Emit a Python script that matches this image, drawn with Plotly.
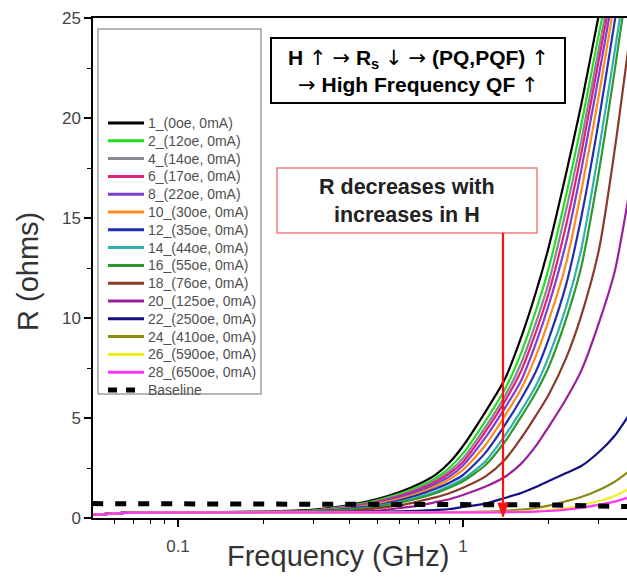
import math
import plotly.graph_objects as go

# ---------------- data ----------------
freq = [0.05, 0.065, 0.1, 0.2, 0.3, 0.4, 0.5, 0.6, 0.7, 0.8, 0.9, 1.0,
        1.2, 1.4, 1.6, 1.8, 2.0, 2.3, 2.6, 3.0, 3.4, 3.8]

names = ["1_(0oe, 0mA)", "2_(12oe, 0mA)", "4_(14oe, 0mA)", "6_(17oe, 0mA)",
         "8_(22oe, 0mA)", "10_(30oe, 0mA)", "12_(35oe, 0mA)", "14_(44oe, 0mA)",
         "16_(55oe, 0mA)", "18_(76oe, 0mA)", "20_(125oe, 0mA)", "22_(250oe, 0mA)",
         "24_(410oe, 0mA)", "26_(590oe, 0mA)", "28_(650oe, 0mA)", "Baseline"]

colors = ["#000000", "#22dd22", "#858a90", "#e0207f", "#7b3fd0", "#ff8c1a",
          "#2030b0", "#30b0b0", "#2e9a2e", "#8b3a2a", "#9b1f9b", "#101080",
          "#8a8a10", "#f0f020", "#ff33ff", "#000000"]

r1 = [0.15, 0.26, 0.28, 0.32, 0.42, 0.65, 0.95, 1.30, 1.70, 2.16, 2.80, 3.60, 5.32, 6.92, 9.03, 11.26, 13.56, 17.22, 20.67, 25.2, 28.9, 32.4]
r2 = [0.15, 0.26, 0.28, 0.31, 0.38, 0.61, 0.89, 1.21, 1.57, 1.99, 2.54, 3.23, 4.86, 6.41, 8.26, 10.35, 12.5, 16.14, 19.65, 24.23, 28.1, 31.5]
r4 = [0.15, 0.26, 0.28, 0.30, 0.36, 0.58, 0.84, 1.14, 1.49, 1.88, 2.37, 2.98, 4.56, 6.07, 7.74, 9.74, 11.8, 15.4, 18.88, 23.5, 27.55, 31.3]
r6 = [0.15, 0.26, 0.28, 0.30, 0.35, 0.56, 0.81, 1.10, 1.42, 1.80, 2.24, 2.80, 4.33, 5.82, 7.36, 9.28, 11.26, 14.64, 18.24, 22.95, 27.1, 30.9]
r8 = [0.15, 0.26, 0.28, 0.30, 0.34, 0.54, 0.76, 1.04, 1.34, 1.69, 2.09, 2.63, 4.03, 5.48, 6.88, 8.72, 10.66, 13.77, 17.4, 22.16, 26.53, 30.4]
r10 = [0.15, 0.26, 0.28, 0.30, 0.33, 0.51, 0.71, 0.96, 1.25, 1.58, 1.95, 2.41, 3.65, 5.09, 6.46, 8.08, 9.89, 12.73, 16.35, 21.16, 25.8, 29.75]
r12 = [0.15, 0.26, 0.28, 0.30, 0.32, 0.47, 0.645, 0.89, 1.16, 1.46, 1.78, 2.15, 3.27, 4.63, 5.96, 7.31, 8.97, 11.67, 15.04, 19.92, 24.77, 28.8]
r14 = [0.15, 0.26, 0.28, 0.30, 0.31, 0.42, 0.60, 0.81, 1.05, 1.31, 1.62, 1.95, 2.84, 4.10, 5.37, 6.60, 8.08, 10.55, 13.44, 18.42, 23.26, 27.7]
r16 = [0.15, 0.26, 0.28, 0.30, 0.31, 0.41, 0.57, 0.77, 0.99, 1.24, 1.53, 1.84, 2.65, 3.80, 5.06, 6.26, 7.56, 9.94, 12.56, 17.34, 22.29, 27.0]
r18 = [0.15, 0.26, 0.28, 0.29, 0.30, 0.35, 0.49, 0.63, 0.83, 1.03, 1.25, 1.51, 2.08, 2.90, 4.00, 5.11, 6.18, 7.99, 10.12, 13.42, 18.33, 23.46]
r20 = [0.15, 0.26, 0.28, 0.29, 0.30, 0.32, 0.36, 0.50, 0.62, 0.79, 0.95, 1.15, 1.57, 2.05, 2.72, 3.59, 4.57, 5.95, 7.37, 9.77, 12.27, 15.97]
r22 = [0.15, 0.26, 0.28, 0.29, 0.29, 0.30, 0.31, 0.33, 0.36, 0.40, 0.45, 0.55, 0.72, 1.00, 1.25, 1.55, 1.85, 2.25, 2.60, 3.30, 4.10, 5.10]
r24 = [0.15, 0.26, 0.28, 0.28, 0.28, 0.28, 0.28, 0.28, 0.28, 0.29, 0.29, 0.30, 0.32, 0.36, 0.42, 0.50, 0.62, 0.84, 1.05, 1.40, 1.80, 2.30]
r26 = [0.15, 0.26, 0.28, 0.28, 0.28, 0.28, 0.28, 0.28, 0.28, 0.28, 0.28, 0.28, 0.29, 0.30, 0.32, 0.35, 0.40, 0.50, 0.65, 0.85, 1.10, 1.45]
r28 = [0.15, 0.26, 0.28, 0.28, 0.28, 0.28, 0.28, 0.28, 0.28, 0.28, 0.28, 0.28, 0.28, 0.29, 0.30, 0.32, 0.35, 0.42, 0.52, 0.66, 0.82, 1.02]
baseline = [0.72, 0.72, 0.71, 0.71, 0.70, 0.70, 0.70, 0.70, 0.70, 0.70, 0.70, 0.70, 0.69, 0.68, 0.67, 0.66, 0.65, 0.64, 0.62, 0.60, 0.58, 0.57]

series = [r1, r2, r4, r6, r8, r10, r12, r14, r16, r18, r20, r22, r24, r26, r28]

x_major = [0.1, 1]
x_major_text = ["0.1", "1"]
x_minor = [0.06, 0.07, 0.08, 0.09, 0.2, 0.3, 0.4, 0.5, 0.6, 0.7, 0.8, 0.9, 2, 3]
y_major = [0, 5, 10, 15, 20, 25]

# ---------------- layout geometry (pixels) ----------------
W, H = 627, 582
L, R, T, B = 93, 627, 18, 518


def pxx(x):
    return (x - L) / (R - L)


def pxy(y):
    return (B - y) / (B - T)


FONT = "Liberation Sans, Arial, sans-serif"


def arr(ch):
    return '<span style="font-family:DejaVu Sans;font-weight:normal">' + ch + '</span>'


UP, DOWN, RIGHT = arr("↑"), arr("↓"), arr("→")

fig = go.Figure()
for name, col, vals in zip(names[:-1], colors[:-1], series):
    fig.add_trace(go.Scatter(x=freq, y=vals, mode="lines", name=name,
                             line=dict(color=col, width=2.2, shape="spline", smoothing=0.7),
                             showlegend=False, hoverinfo="skip"))
fig.add_trace(go.Scatter(x=freq, y=baseline, mode="lines", name=names[-1],
                         line=dict(color="black", width=5, dash="11px,12px"),
                         showlegend=False, hoverinfo="skip"))

x_lo = math.log10(0.05) + (L - 92.2) / 285.0
x_hi = -1 + (R - 178) / 285.0

shapes = []
annotations = []

# legend box
shapes.append(dict(type="rect", xref="paper", yref="paper",
                   x0=pxx(98), x1=pxx(261), y0=pxy(29), y1=pxy(394),
                   line=dict(color="#a0a0a0", width=1.5), fillcolor="white", layer="above"))
for i, (name, col) in enumerate(zip(names, colors)):
    yy = 123 + i * 17.8
    if name == "Baseline":
        shapes.append(dict(type="line", xref="paper", yref="paper",
                           x0=pxx(108), x1=pxx(144), y0=pxy(yy), y1=pxy(yy),
                           line=dict(color=col, width=5, dash="9px,9px"), layer="above"))
    else:
        shapes.append(dict(type="line", xref="paper", yref="paper",
                           x0=pxx(108), x1=pxx(144), y0=pxy(yy), y1=pxy(yy),
                           line=dict(color=col, width=3), layer="above"))
    annotations.append(dict(text=name, xref="paper", yref="paper", x=pxx(146), y=pxy(yy),
                            xanchor="left", yanchor="middle", showarrow=False,
                            font=dict(family=FONT, size=14, color="#505050")))

# black box (top)
shapes.append(dict(type="rect", xref="paper", yref="paper",
                   x0=pxx(271), x1=pxx(565), y0=pxy(38), y1=pxy(103),
                   line=dict(color="black", width=2), fillcolor="white", layer="above"))
annotations.append(dict(text="<b>H " + UP + " " + RIGHT + " R<sub>s</sub> " + DOWN + " " + RIGHT
                        + " (PQ,PQF) " + UP + "<br>" + RIGHT + " High Frequency QF " + UP + "</b>",
                        xref="paper", yref="paper", x=pxx(418), y=pxy(71),
                        xanchor="center", yanchor="middle", showarrow=False, align="center",
                        font=dict(family=FONT, size=21, color="black")))

# red box
shapes.append(dict(type="rect", xref="paper", yref="paper",
                   x0=pxx(277), x1=pxx(537), y0=pxy(168), y1=pxy(233),
                   line=dict(color="#f08080", width=1.5), fillcolor="white", layer="above"))
annotations.append(dict(text="<b>R decreases with<br>increases in H</b>",
                        xref="paper", yref="paper", x=pxx(407), y=pxy(201),
                        xanchor="center", yanchor="middle", showarrow=False, align="center",
                        font=dict(family=FONT, size=21.5, color="#222222")))

# red arrow (vertical line + head) from the red box down to the axis
ax_px = 503
shapes.append(dict(type="line", xref="paper", yref="paper",
                   x0=pxx(ax_px), x1=pxx(ax_px), y0=pxy(233), y1=pxy(506),
                   line=dict(color="#ff1010", width=2.2), layer="above"))
shapes.append(dict(type="path", xref="paper", yref="paper",
                   path="M {:.5f} {:.5f} L {:.5f} {:.5f} L {:.5f} {:.5f} Z".format(
                       pxx(ax_px - 5), pxy(503), pxx(ax_px + 5), pxy(503), pxx(ax_px), pxy(517)),
                   line=dict(color="#ff1010", width=1), fillcolor="#ff1010", layer="above"))

# axis titles
annotations.append(dict(text="Frequency (GHz)", xref="paper", yref="paper",
                        x=pxx(338), y=pxy(556), xanchor="center", yanchor="middle",
                        showarrow=False, font=dict(family=FONT, size=29, color="#333333")))
annotations.append(dict(text="R (ohms)", xref="paper", yref="paper",
                        x=pxx(28), y=pxy(272), xanchor="center", yanchor="middle",
                        textangle=-90, showarrow=False,
                        font=dict(family=FONT, size=29, color="#333333")))

fig.update_layout(
    width=W, height=H,
    margin=dict(l=L, r=W - R, t=T, b=H - B, pad=0),
    paper_bgcolor="white", plot_bgcolor="white", showlegend=False,
    shapes=shapes, annotations=annotations,
    xaxis=dict(type="log", range=[x_lo, x_hi], showline=True, linecolor="black",
               linewidth=1.5, mirror=True, ticks="outside", ticklen=7, tickwidth=1.5,
               tickcolor="black", tickvals=x_major, ticktext=x_major_text,
               tickfont=dict(family=FONT, size=17, color="#444444"),
               ticklabelstandoff=5,
               showgrid=False, zeroline=False,
               minor=dict(tickvals=x_minor, ticks="outside", ticklen=4, tickwidth=1.2,
                          tickcolor="black", showgrid=False)),
    yaxis=dict(range=[0, 25], showline=True, linecolor="black", linewidth=1.5,
               ticks="outside", ticklen=7, tickwidth=1.5, tickcolor="black",
               tickvals=y_major, tickfont=dict(family=FONT, size=17, color="#444444"),
               showgrid=False, zeroline=False,
               minor=dict(dtick=2.5, ticks="outside", ticklen=4, tickwidth=1.2,
                          tickcolor="black", showgrid=False)),
)

fig.write_html("out.html")
